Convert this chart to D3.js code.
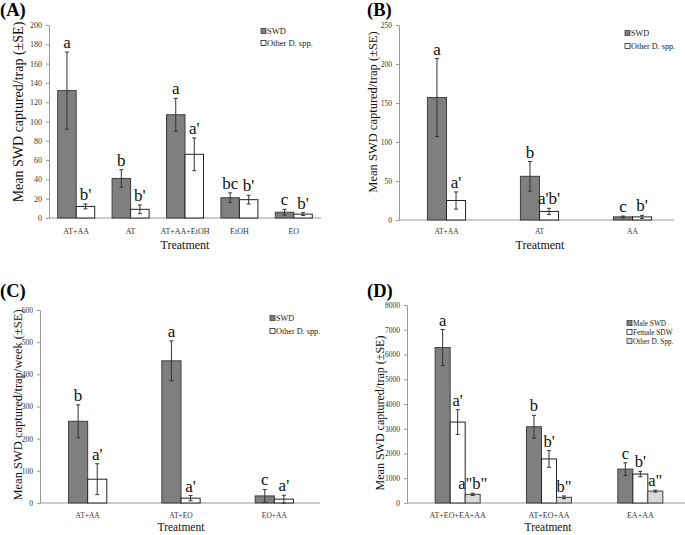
<!DOCTYPE html>
<html><head><meta charset="utf-8">
<script src="https://cdn.jsdelivr.net/npm/d3@7"></script>
<style>
body{margin:0;background:#fff;}
svg{display:block;font-family:"Liberation Serif","Times New Roman",serif;}
</style></head>
<body><svg id="c" width="685" height="535"></svg>
<script>
// ---------- Panel A ----------
const catsA = ["AT+AA","AT","AT+AA+EtOH","EtOH","EO"];
const swdA = [132,41,107,21,6];
const swdSeA = [40,9,17,5,3];
const otherA = [12,9,66,19,4];
const otherSeA = [2.5,4.5,17,4.5,1.5];
const swdLetA = ["a","b","a","bc","c"];
const otherLetA = ["b'","b'","a'","b'","b'"];
const ticksA = [0,20,40,60,80,100,120,140,160,180,200];

// ---------- Panel B ----------
const catsB = ["AT+AA","AT","AA"];
const swdB = [157,56,4];
const swdSeB = [50,19,1];
const otherB = [25,11,4];
const otherSeB = [11,4,2];
const swdLetB = ["a","b","c"];
const otherLetB = ["a'","a'b'","b'"];
const ticksB = [0,50,100,150,200,250];

// ---------- Panel C ----------
const catsC = ["AT+AA","AT+EO","EO+AA"];
const swdC = [254,442,22];
const swdSeC = [51,62,20];
const otherC = [74,15,12];
const otherSeC = [48,8,12];
const swdLetC = ["b","a","c"];
const otherLetC = ["a'","a'","a'"];
const ticksC = [0,100,200,300,400,500,600];

// ---------- Panel D ----------
const catsD = ["AT+EO+EA+AA","AT+EO+AA","EA+AA"];
const maleD = [6280,3080,1370];
const maleSeD = [730,460,255];
const femaleD = [3270,1780,1170];
const femaleSeD = [500,335,110];
const otherD = [350,230,480];
const otherSeD = [45,55,40];
const maleLetD = ["a","b","c"];
const femaleLetD = ["a'","b'","b'"];
const otherLetD = ["a\"b\"","b\"","a\""];
const ticksD = [0,1000,2000,3000,4000,5000,6000,7000,8000];

const svg = d3.select("#c");
const DARK = "#7f7f7f", DARKS = "#3f3f3f", LIGHT = "#d9d9d9";
const SERIF = "Liberation Serif, Times New Roman, serif";

function panel(o){
  const g = svg.append("g");
  const x = d3.scaleBand().domain(o.cats).range(o.xr).paddingInner(o.pi).paddingOuter(o.po);
  const xs = d3.scaleBand().domain(o.series.map(s=>s.name)).range([0,x.bandwidth()]);
  const y = d3.scaleLinear().domain([0,o.max]).range(o.yr);

  // y axis
  const ya = g.append("g").attr("transform",`translate(${o.axisX},0)`)
    .call(d3.axisLeft(y).tickValues(o.ticks).tickFormat(d3.format("d")).tickSize(3).tickSizeOuter(0).tickPadding(4));
  ya.attr("font-family",SERIF).attr("font-size",o.tickFs);
  ya.select(".domain").attr("stroke","#999");
  ya.selectAll(".tick line").attr("stroke","#999");
  ya.selectAll(".tick text").attr("fill","#333");

  // x axis
  g.append("line").attr("x1",o.axisX).attr("x2",o.axisEnd).attr("y1",y(0)).attr("y2",y(0)).attr("stroke","#999");
  const xa = g.append("g").attr("transform",`translate(0,${y(0)})`)
    .call(d3.axisBottom(x).tickSize(0).tickPadding(o.catPad));
  xa.attr("font-family",SERIF).attr("font-size",o.catFs);
  xa.select(".domain").remove();
  xa.selectAll(".tick text").attr("fill","#333");

  // bars
  o.series.forEach(s=>{
    const sg = g.append("g");
    o.cats.forEach((c,i)=>{
      const bx = x(c)+xs(s.name), bw = xs.bandwidth();
      sg.append("rect").attr("x",bx).attr("y",y(s.vals[i])).attr("width",bw)
        .attr("height",y(0)-y(s.vals[i])).attr("fill",s.fill).attr("stroke",s.stroke).attr("stroke-width",1);
      const cx = bx+bw/2;
      const top = y(s.vals[i]+s.se[i]), bot = y(Math.max(0,s.vals[i]-s.se[i]));
      sg.append("line").attr("x1",cx).attr("x2",cx).attr("y1",top).attr("y2",bot).attr("stroke","#333");
      [top,bot].forEach(yy=>sg.append("line").attr("x1",cx-2).attr("x2",cx+2).attr("y1",yy).attr("y2",yy).attr("stroke","#333"));
      sg.append("text").attr("x",cx).attr("y",top-4).attr("text-anchor","middle")
        .attr("font-family",SERIF).attr("font-size",o.letFs).attr("fill","#111").text(s.lets[i]);
    });
  });

  // legend
  o.series.forEach((s,i)=>{
    const ly = o.leg[1]+i*o.legDy;
    g.append("rect").attr("x",o.leg[0]).attr("y",ly-o.legSq/2).attr("width",o.legSq).attr("height",o.legSq)
      .attr("fill",s.fill).attr("stroke",s.stroke).attr("stroke-width",0.8);
    g.append("text").attr("x",o.leg[0]+o.legSq+1).attr("y",ly).attr("dy","0.35em")
      .attr("font-family",SERIF).attr("font-size",o.legFs).attr("fill","#222").text(s.name);
  });

  // axis titles
  g.append("text").attr("transform",`translate(${o.ylab[0]},${o.ylab[1]}) rotate(-90)`)
    .attr("text-anchor","middle").attr("dy","0.35em").attr("font-family",SERIF)
    .attr("font-size",o.ylabFs).attr("fill","#111").text(o.ylabel);
  g.append("text").attr("x",o.xlab[0]).attr("y",o.xlab[1]).attr("text-anchor","middle")
    .attr("font-family",SERIF).attr("font-size",o.xlabFs).attr("fill","#111").text("Treatment");
  g.append("text").attr("x",o.tag[0]).attr("y",o.tag[1]).attr("font-weight","bold")
    .attr("font-family",SERIF).attr("font-size",18.5).attr("fill","#000").text(o.tagText);
}

panel({cats:catsA, max:200, ticks:ticksA, xr:[49,321], axisX:49, axisEnd:321, yr:[218,25], pi:0.32, po:0.16,
  series:[{name:"SWD",vals:swdA,se:swdSeA,lets:swdLetA,fill:DARK,stroke:DARKS},
          {name:"Other D. spp.",vals:otherA,se:otherSeA,lets:otherLetA,fill:"#fff",stroke:"#222"}],
  tickFs:8, catFs:8, catPad:10, letFs:17, leg:[261,31], legDy:12, legSq:5, legFs:8.5,
  ylab:[18,112], ylabFs:14, ylabel:"Mean SWD captured/trap (±SE)", xlab:[185,249], xlabFs:12,
  tag:[0,16], tagText:"(A)"});

panel({cats:catsB, max:250, ticks:ticksB, xr:[400,679], axisX:399, axisEnd:674, yr:[220,25], pi:0.59, po:0.295,
  series:[{name:"SWD",vals:swdB,se:swdSeB,lets:swdLetB,fill:DARK,stroke:DARKS},
          {name:"Other D. spp.",vals:otherB,se:otherSeB,lets:otherLetB,fill:"#fff",stroke:"#222"}],
  tickFs:7.5, catFs:7.5, catPad:9, letFs:17, leg:[625,33], legDy:13, legSq:5, legFs:8.2,
  ylab:[373,112], ylabFs:12.5, ylabel:"Mean SWD captured/trap (±SE)", xlab:[540,249], xlabFs:12,
  tag:[367,16], tagText:"(B)"});

panel({cats:catsC, max:600, ticks:ticksC, xr:[41,321], axisX:40, axisEnd:320, yr:[503,310], pi:0.59, po:0.295,
  series:[{name:"SWD",vals:swdC,se:swdSeC,lets:swdLetC,fill:DARK,stroke:DARKS},
          {name:"Other D. spp.",vals:otherC,se:otherSeC,lets:otherLetC,fill:"#fff",stroke:"#222"}],
  tickFs:7.5, catFs:7.5, catPad:10, letFs:17, leg:[270,318], legDy:13, legSq:5, legFs:8.2,
  ylab:[18,405], ylabFs:12.5, ylabel:"Mean SWD captured/trap/week (±SE)", xlab:[181,531], xlabFs:11.5,
  tag:[0,297], tagText:"(C)"});

panel({cats:catsD, max:8000, ticks:ticksD, xr:[412,686], axisX:407, axisEnd:685, yr:[503,305], pi:0.507, po:0.2535,
  series:[{name:"Male SWD",vals:maleD,se:maleSeD,lets:maleLetD,fill:DARK,stroke:DARKS},
          {name:"Female SDW",vals:femaleD,se:femaleSeD,lets:femaleLetD,fill:"#fff",stroke:"#222"},
          {name:"Other D. Spp.",vals:otherD,se:otherSeD,lets:otherLetD,fill:LIGHT,stroke:"#444"}],
  tickFs:7.5, catFs:8, catPad:9, letFs:16.5, leg:[627,323], legDy:9, legSq:5, legFs:7.3,
  ylab:[380,413], ylabFs:12, ylabel:"Mean SWD captured/trap (±SE)", xlab:[548,531], xlabFs:11.5,
  tag:[367,297], tagText:"(D)"});
</script></body></html>
